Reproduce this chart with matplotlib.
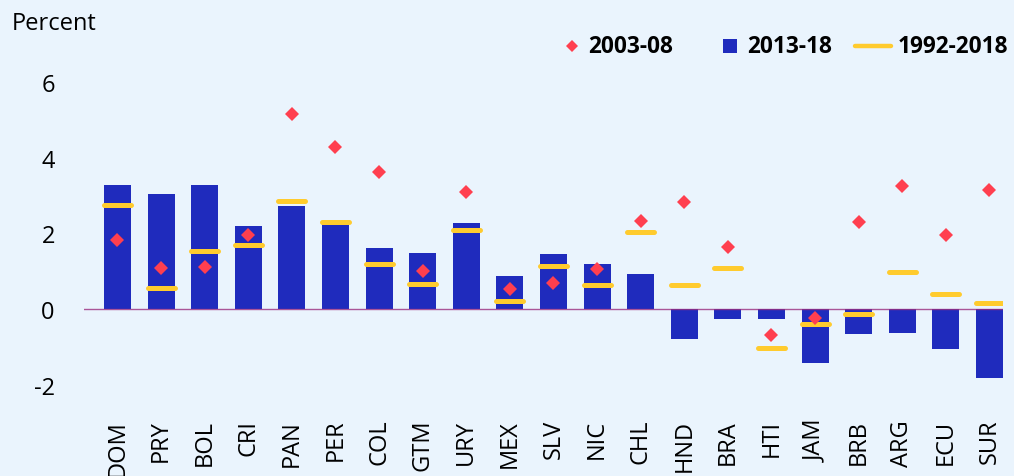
import matplotlib
matplotlib.use("Agg")
import matplotlib.pyplot as plt
from matplotlib.lines import Line2D
import numpy as np

countries = ["DOM", "PRY", "BOL", "CRI", "PAN", "PER", "COL", "GTM", "URY", "MEX", "SLV",
             "NIC", "CHL", "HND", "BRA", "HTI", "JAM", "BRB", "ARG", "ECU", "SUR"]
g_2013_18 = [3.28, 3.05, 3.28, 2.20, 2.74, 2.24, 1.62, 1.48, 2.28, 0.87, 1.46,
             1.19, 0.93, -0.79, -0.26, -0.26, -1.42, -0.65, -0.63, -1.05, -1.82]
g_2003_08 = [1.84, 1.09, 1.11, 1.95, 5.17, 4.30, 3.62, 1.01, 3.10, 0.52, 0.69,
             1.07, 2.33, 2.83, 1.65, -0.70, -0.23, 2.31, 3.26, 1.95, 3.15]
g_1992_2018 = [2.75, 0.56, 1.53, 1.70, 2.85, 2.30, 1.18, 0.66, 2.08, 0.20, 1.15,
               0.63, 2.03, 0.64, 1.09, -1.02, -0.40, -0.14, 0.99, 0.39, 0.17]
yticks = [-2, 0, 2, 4, 6]
ytick_labels = ["-2", "0", "2", "4", "6"]
legend_labels = ["2003-08", "2013-18", "1992-2018"]

BG = "#EAF4FD"
BLUE = "#1F2BBD"
RED = "#FF3F4F"
YELLOW = "#FFCB2E"

plt.rcParams["font.family"] = ["Open Sans", "Noto Sans", "DejaVu Sans"]
W, H = 1014, 477
fig = plt.figure(figsize=(W / 100, H / 100), dpi=100, facecolor=BG)
ax = fig.add_axes([84 / W, 0.1285, (1003 - 84) / W, 0.8883 - 0.1285])
ax.set_facecolor(BG)

x = np.arange(len(countries))
bw = 0.62
ax.bar(x, g_2013_18, width=bw, color=BLUE, zorder=2)
ax.axhline(0, color="#9B2D7F", lw=1.0, alpha=0.8, zorder=3)
lc = ax.hlines(g_1992_2018, x - bw / 2, x + bw / 2, colors=YELLOW, lw=3.6, zorder=4)
lc.set_capstyle("round")
ax.plot(x, g_2003_08, linestyle="none", marker="D", markersize=7.5, color=RED,
        markeredgewidth=0, zorder=5)

ax.set_xlim(-0.768, 20.31)
ax.set_ylim(-2.8, 6.8)
ax.set_yticks(yticks)
ax.set_yticklabels(ytick_labels)
ax.set_xticks(x)
ax.set_xticklabels(countries, rotation=90)
ax.tick_params(axis="y", length=0, pad=21, labelsize=17)
ax.tick_params(axis="x", length=0, pad=3, labelsize=17)
for s in ax.spines.values():
    s.set_visible(False)

fig.text(12 / W, 1 - 24 / H, "Percent", fontsize=17, va="center", ha="left")

# legend
ly = 1 - 47 / H
lfs = 16.3
fig.add_artist(Line2D([572 / W], [ly], marker="D", markersize=5.8, color=RED,
                      markeredgewidth=0, linestyle="none", transform=fig.transFigure))
fig.text(588 / W, ly, legend_labels[0], fontsize=lfs, fontweight="bold", va="center", ha="left")
fig.add_artist(Line2D([730 / W], [ly], marker="s", markersize=10.5, color=BLUE,
                      markeredgewidth=0, linestyle="none", transform=fig.transFigure))
fig.text(747 / W, ly, legend_labels[1], fontsize=lfs, fontweight="bold", va="center", ha="left")
fig.add_artist(Line2D([855 / W, 891 / W], [ly, ly], color=YELLOW, lw=3.2,
                      solid_capstyle="round", transform=fig.transFigure))
fig.text(898 / W, ly, legend_labels[2], fontsize=lfs, fontweight="bold", va="center", ha="left")

fig.savefig("out.png", dpi=100, facecolor=BG)
